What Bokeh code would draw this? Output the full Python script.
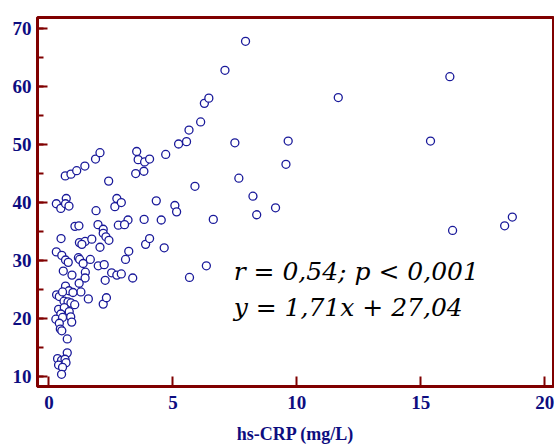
from bokeh.plotting import figure
from bokeh.models import Range1d, SingleIntervalTicker, Label
from bokeh.embed import file_html
from bokeh.resources import INLINE

# hs-CRP (mg/L) values
hs_crp = [0.30, 0.48, 0.70, 0.67, 0.81, 0.66, 0.89, 1.12, 1.45, 1.88,
          2.06, 2.41, 1.90, 2.74, 2.66, 2.92, 3.50, 3.54, 3.60, 3.83,
          3.86, 4.06, 4.33, 4.71, 5.08, 5.15, 5.23, 5.55, 5.65, 5.89,
          6.12, 6.27, 6.45, 7.10, 7.93, 7.50, 7.66, 8.23, 8.38, 9.14,
          11.67, 16.17, 15.39, 9.65, 9.56, 16.28, 18.38, 18.69, 6.35, 5.67,
          3.19, 3.84, 4.53, 6.63, 1.05, 1.21, 1.98, 2.19, 2.80, 3.05,
          0.49, 2.19, 2.30, 2.42, 1.23, 1.46, 1.33, 1.73, 2.06, 0.30,
          0.52, 0.67, 0.78, 1.19, 1.24, 1.38, 1.67, 1.99, 2.23, 0.58,
          0.93, 1.47, 1.46, 1.22, 1.29, 1.59, 2.27, 2.53, 2.74, 2.92,
          3.38, 3.09, 3.22, 3.90, 4.06, 4.65, 0.31, 0.42, 0.67, 0.81,
          0.97, 0.55, 0.61, 0.77, 0.89, 1.04, 2.19, 2.32, 0.39, 0.62,
          0.82, 0.48, 0.28, 0.55, 0.88, 0.92, 0.42, 0.46, 0.52, 0.74,
          0.74, 0.35, 0.51, 0.65, 0.39, 0.69, 0.55, 0.51]

# outcome values
outcome = [39.8, 39.0, 40.7, 39.8, 39.4, 44.6, 44.9, 45.5, 46.3, 47.5,
           48.6, 43.7, 38.6, 40.7, 39.3, 40.0, 45.0, 48.8, 47.4, 45.4,
           47.0, 47.5, 40.3, 48.3, 39.5, 38.4, 50.1, 50.5, 52.5, 42.8,
           53.9, 57.1, 58.0, 62.8, 67.8, 50.3, 44.2, 41.1, 37.9, 39.1,
           58.1, 61.7, 50.6, 50.6, 46.6, 35.2, 36.0, 37.5, 29.1, 27.1,
           37.0, 37.1, 37.0, 37.1, 35.9, 36.0, 36.2, 35.4, 36.1, 36.2,
           33.8, 34.7, 34.1, 33.5, 33.1, 33.3, 32.8, 33.7, 32.3, 31.5,
           30.9, 30.1, 29.7, 30.5, 30.2, 29.5, 30.2, 29.1, 29.3, 28.2,
           27.5, 28.0, 27.0, 26.1, 24.6, 23.4, 26.6, 27.9, 27.5, 27.7,
           27.0, 30.2, 31.6, 32.8, 33.8, 32.2, 24.1, 23.8, 25.6, 24.8,
           24.5, 24.6, 23.0, 22.9, 22.7, 22.4, 22.5, 23.6, 21.6, 21.9,
           21.2, 20.8, 19.9, 20.2, 20.3, 19.4, 19.2, 18.2, 17.9, 16.5,
           14.1, 13.1, 12.8, 13.0, 12.0, 12.4, 11.6, 10.4]

x_tick_interval = 5
y_tick_interval = 10
x_axis_title = "hs-CRP (mg/L)"
stat_line1 = "r = 0,54; p < 0,001"
stat_line2 = "y = 1,71x + 27,04"

MAROON = "#800000"
NAVY = "#0d0d80"
SERIF = "Liberation Serif"
STAT_FONT = "DejaVu Serif"

p = figure(width=554, height=446, output_backend="svg", toolbar_location=None,
           x_range=Range1d(-0.46, 20.35), y_range=Range1d(8.3, 71.9),
           min_border_left=37, min_border_right=1, min_border_top=17,
           min_border_bottom=56)

p.xgrid.visible = False
p.ygrid.visible = False
p.background_fill_color = "white"
p.border_fill_color = "white"
p.outline_line_color = MAROON
p.outline_line_width = 3

p.xaxis.ticker = SingleIntervalTicker(interval=x_tick_interval, num_minor_ticks=0)
p.yaxis.ticker = SingleIntervalTicker(interval=y_tick_interval, num_minor_ticks=2)

p.xaxis.axis_line_color = MAROON
p.yaxis.axis_line_color = MAROON
p.xaxis.axis_line_width = 2.5
p.yaxis.axis_line_width = 2.5
p.xaxis.major_tick_line_color = MAROON
p.yaxis.major_tick_line_color = MAROON
p.xaxis.major_tick_line_width = 2
p.yaxis.major_tick_line_width = 2
p.xaxis.major_tick_in = 10
p.yaxis.major_tick_in = 10
p.xaxis.major_tick_out = 0
p.yaxis.major_tick_out = 0
p.yaxis.minor_tick_line_color = MAROON
p.yaxis.minor_tick_line_width = 2
p.yaxis.minor_tick_in = 6
p.yaxis.minor_tick_out = 0
p.xaxis.minor_tick_line_color = None

p.xaxis.major_label_text_font = SERIF
p.yaxis.major_label_text_font = SERIF
p.xaxis.major_label_text_font_style = "bold"
p.yaxis.major_label_text_font_style = "bold"
p.xaxis.major_label_text_font_size = "19px"
p.yaxis.major_label_text_font_size = "19px"
p.xaxis.major_label_text_color = NAVY
p.yaxis.major_label_text_color = NAVY
p.yaxis.major_label_standoff = 6
p.xaxis.major_label_standoff = 9

p.xaxis.axis_label = x_axis_title
p.xaxis.axis_label_text_font = SERIF
p.xaxis.axis_label_text_font_style = "bold"
p.xaxis.axis_label_text_font_size = "18px"
p.xaxis.axis_label_text_color = NAVY
p.xaxis.axis_label_standoff = 12

p.scatter(hs_crp, outcome, marker="circle", size=8, fill_color="white",
          line_color="#1a1a9a", line_width=1.3)

for txt, yy in ((stat_line1, 28.2), (stat_line2, 21.9)):
    p.add_layout(Label(x=7.45, y=yy, text=txt, text_font=STAT_FONT,
                       text_font_style="italic", text_font_size="25px",
                       text_color="black", text_baseline="alphabetic"))

open("out.html", "w").write(file_html(p, INLINE))
